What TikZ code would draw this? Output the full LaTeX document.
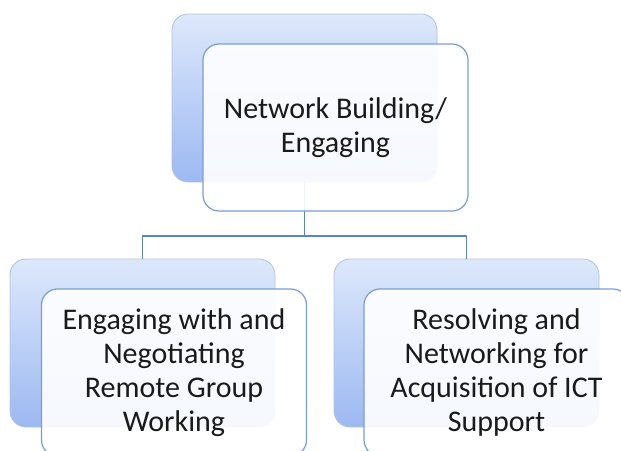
\documentclass[tikz,border=0pt]{standalone}
\usepackage{fontspec}
\setmainfont{Carlito}
\usetikzlibrary{calc}
\definecolor{ink}{HTML}{1A1A1A}
\definecolor{backtop}{HTML}{DDE8FB}
\definecolor{backbot}{HTML}{9CB9F2}
\definecolor{backedge}{HTML}{B4C2D8}
\definecolor{frontedge}{HTML}{7A9ED3}
\definecolor{linkblue}{HTML}{5A84C0}

\begin{document}
\begin{tikzpicture}[
  x=1pt,y=-1pt,text=ink,
  line width=1.2pt,line join=round,
  back/.style={draw=backedge,line width=0.8pt,rounded corners=16pt,
    top color=backtop,bottom color=backbot,
    minimum width=265pt,minimum height=168pt,inner sep=0pt},
  front/.style={draw=frontedge,rounded corners=16pt,
    fill=white,fill opacity=0.91,text opacity=1,
    minimum width=265pt,minimum height=167pt,inner sep=0pt,
    align=center,font=\fontsize{30}{34}\selectfont},
  link/.style={draw=linkblue,line width=1.7pt}
]
\useasboundingbox (0,0) rectangle (621,450);

% Back cards: one for the root, one per branch.
\node[back] (rootbk) at (304.5,98) {};
\node[back] (leftbk) at (142.5,343) {};
\node[back] (rightbk) at (466.5,343) {};

% Elbow links from the root card down to each branch card.
\coordinate (fork) at (304.5,236);
\draw[link] (rootbk.south) -- (fork);
\draw[link] (fork) -| (leftbk.north);
\draw[link] (fork) -| (rightbk.north);

% Front cards carry the text, shifted down and right.
\node[front] (root) at (335.5,127.5) {Network Building/\\Engaging};
\node[front] (left) at (174,372.5)
  {Engaging with and\\Negotiating\\Remote Group\\Working};
\node[front] (right) at (496.5,372.5)
  {Resolving and\\Networking for\\Acquisition of ICT\\Support};
\end{tikzpicture}
\end{document}
